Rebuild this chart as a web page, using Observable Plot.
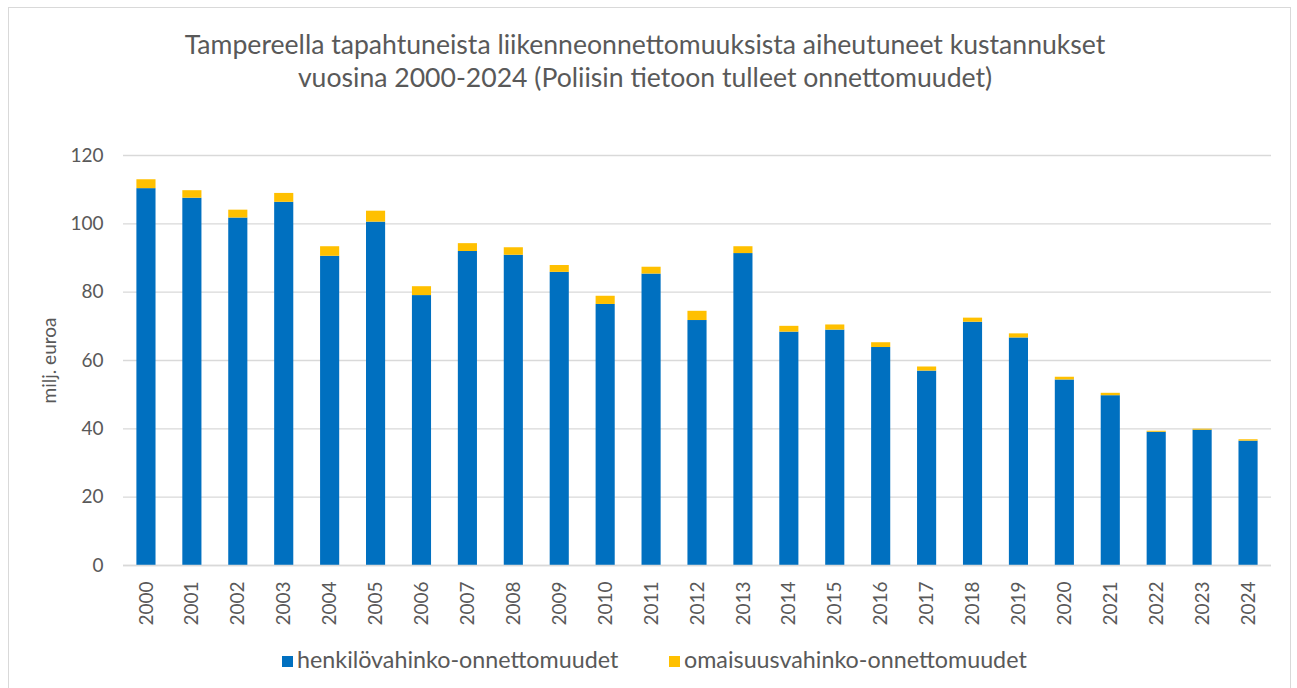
<!DOCTYPE html>
<html>
<head>
<meta charset="utf-8">
<script src="https://cdn.jsdelivr.net/npm/d3@7"></script>
<script src="https://cdn.jsdelivr.net/npm/@observablehq/plot@0.6"></script>
<style>
  html, body { margin: 0; padding: 0; background: #fff; }
  #page { position: relative; width: 1297px; height: 688px; overflow: hidden; font-family: Lato, "Open Sans", sans-serif; color: #595959; }
  #frame { position: absolute; left: 8px; top: 7px; width: 1283px; height: 700px; border: 1.5px solid #d9d9d9; box-sizing: border-box; }
  #title { position: absolute; left: 0; top: 28px; width: 1290px; text-align: center; font-size: 26.6px; line-height: 33px; color: #595959; }
  #chart { position: absolute; left: 0; top: 120px; }
  #legend { position: absolute; top: 645px; left: 0; width: 1297px; height: 28px; font-size: 23.3px; color: #595959; }
  .item { position: absolute; top: 0; white-space: nowrap; line-height: 28px; }
  .sw { display: inline-block; width: 11px; height: 11px; margin-right: 4px; vertical-align: 1px; }
</style>
</head>
<body>
<div id="page">
  <div id="frame"></div>
  <div id="title"></div>
  <div id="chart"></div>
  <div id="legend"></div>
</div>
<script>
const titleLines = [
  "Tampereella tapahtuneista liikenneonnettomuuksista aiheutuneet kustannukset",
  "vuosina 2000-2024 (Poliisin tietoon tulleet onnettomuudet)"
];
const yAxisLabel = "milj. euroa";
const seriesNames = ["henkilövahinko-onnettomuudet", "omaisuusvahinko-onnettomuudet"];
const seriesColors = ["#0070C0", "#FFC000"];
const years = ["2000","2001","2002","2003","2004","2005","2006","2007","2008","2009","2010","2011","2012","2013","2014","2015","2016","2017","2018","2019","2020","2021","2022","2023","2024"];
const henkilo = [110.3,107.5,101.7,106.3,90.5,100.5,79.0,91.9,90.8,85.8,76.4,85.3,71.7,91.3,68.3,68.9,63.8,56.9,71.2,66.6,54.3,49.7,39.0,39.6,36.4];
const omaisuus = [2.6,2.2,2.3,2.6,2.8,3.2,2.6,2.3,2.2,2.0,2.4,2.0,2.7,2.0,1.7,1.5,1.4,1.2,1.2,1.2,0.8,0.7,0.3,0.3,0.4];
const yTicks = [0,20,40,60,80,100,120];

const rows = [];
years.forEach((yr, i) => {
  rows.push({year: yr, series: seriesNames[0], value: henkilo[i]});
  rows.push({year: yr, series: seriesNames[1], value: omaisuus[i]});
});

document.getElementById("title").innerHTML = titleLines.join("<br>");

const chart = Plot.plot({
  width: 1297,
  height: 520,
  marginTop: 35,
  marginBottom: 75,
  marginLeft: 123,
  marginRight: 26,
  style: {fontFamily: "Lato, 'Open Sans', sans-serif", fontSize: "19px", color: "#595959", background: "transparent"},
  x: {domain: years, padding: 0, round: false, label: null},
  y: {domain: [0, 120], ticks: yTicks, label: null},
  color: {domain: seriesNames, range: seriesColors},
  marks: [
    Plot.gridY(yTicks, {stroke: "#d9d9d9", strokeOpacity: 1, strokeWidth: 1.3}),
    Plot.barY(rows, {x: "year", y: "value", fill: "series", order: seriesNames, insetLeft: 13.4, insetRight: 13.4}),
    Plot.ruleY([0], {stroke: "#d9d9d9", strokeWidth: 1.3}),
    Plot.axisY(yTicks, {tickSize: 0, tickPadding: 20, label: yAxisLabel, labelAnchor: "center", labelArrow: "none", labelOffset: 81, fill: "#595959"}),
    Plot.axisX({tickSize: 0, tickPadding: 16, tickRotate: -90, label: null, fill: "#595959"})
  ]
});
document.getElementById("chart").appendChild(chart);

const legend = document.getElementById("legend");
const lefts = [282, 669];
seriesNames.forEach((name, i) => {
  const d = document.createElement("div");
  d.className = "item";
  d.style.left = lefts[i] + "px";
  d.innerHTML = `<span class="sw" style="background:${seriesColors[i]}"></span>${name}`;
  legend.appendChild(d);
});
</script>
</body>
</html>
